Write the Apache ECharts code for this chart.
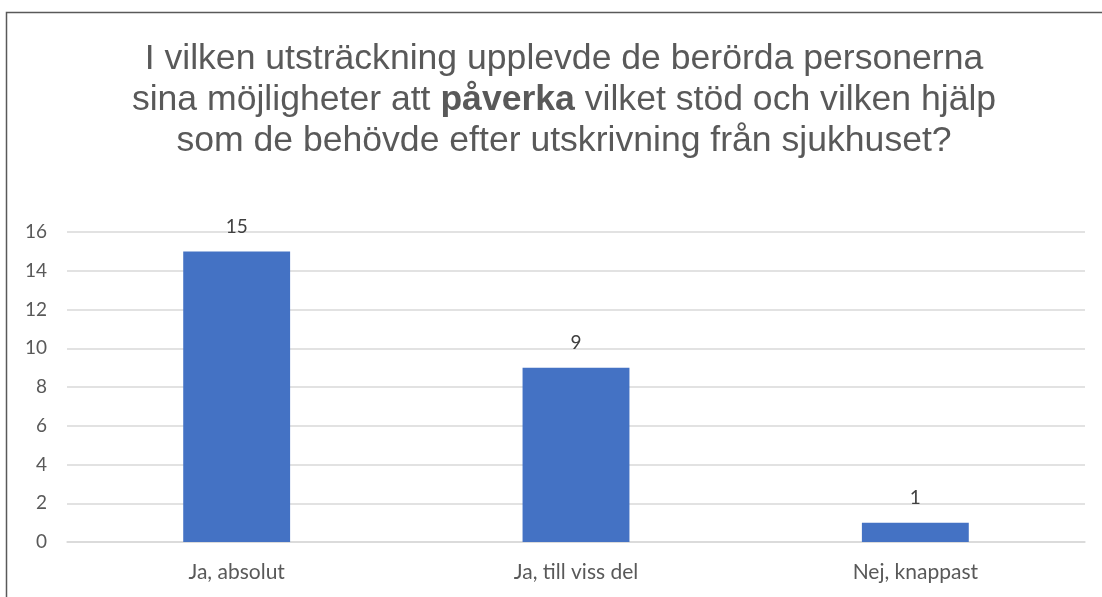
<!DOCTYPE html>
<html>
<head>
    <meta charset="UTF-8">
    <title>påverka</title>
    <script src="https://cdn.jsdelivr.net/npm/echarts@6/dist/echarts.min.js"></script>
</head>
<style type="text/css">
    body {
        margin: 0;
        padding: 0;
        background: #ffffff;
    }
</style>
<body>
<div id="app" style="width: 1102px;height: 597px;"></div>
<script type="text/javascript">
    // data
    var categories = ['Ja, absolut', 'Ja, till viss del', 'Nej, knappast'];
    var counts = [15, 9, 1];
    var yTicks = {min: 0, max: 16, step: 2};

    var titleLines = [
        'I vilken utsträckning upplevde de berörda personerna',
        'sina möjligheter att {b|påverka} vilket stöd och vilken hjälp',
        'som de behövde efter utskrivning från sjukhuset?'
    ];

    var myChart = echarts.init(document.getElementById('app'), null, {renderer: 'canvas'});
    var labelFont = 'Lato';

    var option = {
        animation: false,
        backgroundColor: '#ffffff',
        graphic: [
            {
                type: 'rect',
                shape: {x: 6.5, y: 12.5, width: 1200, height: 700},
                style: {fill: 'none', stroke: '#595959', lineWidth: 1.5},
                silent: true
            }
        ],
        title: {
            text: titleLines.join('\n'),
            left: 559,
            top: 34,
            textAlign: 'center',
            textStyle: {
                fontFamily: 'Liberation Sans',
                fontSize: 35.6,
                fontWeight: 'normal',
                color: '#595959',
                lineHeight: 41,
                rich: {
                    b: {
                        fontFamily: 'Liberation Sans',
                        fontSize: 35.6,
                        fontWeight: 'bold',
                        color: '#595959',
                        lineHeight: 41
                    }
                }
            }
        },
        grid: {
            left: 67,
            right: 17,
            top: 232,
            bottom: 55,
            containLabel: false
        },
        xAxis: {
            type: 'category',
            data: categories,
            axisLine: {lineStyle: {color: '#d9d9d9', width: 1.5}},
            axisTick: {show: false},
            axisLabel: {
                fontFamily: labelFont,
                fontSize: 21,
                color: '#595959',
                margin: 20
            }
        },
        yAxis: {
            type: 'value',
            min: yTicks.min,
            max: yTicks.max,
            interval: yTicks.step,
            axisLine: {show: false},
            axisTick: {show: false},
            splitLine: {lineStyle: {color: '#d9d9d9', width: 1.5}},
            axisLabel: {
                fontFamily: labelFont,
                fontSize: 19,
                color: '#595959',
                margin: 20
            }
        },
        series: [
            {
                type: 'bar',
                data: counts,
                barWidth: '31.5%',
                itemStyle: {color: '#4472c4'},
                label: {
                    show: true,
                    position: 'top',
                    distance: 15,
                    fontFamily: labelFont,
                    fontSize: 19,
                    color: '#404040'
                }
            }
        ]
    };

    myChart.setOption(option);
</script>
</body>
</html>
